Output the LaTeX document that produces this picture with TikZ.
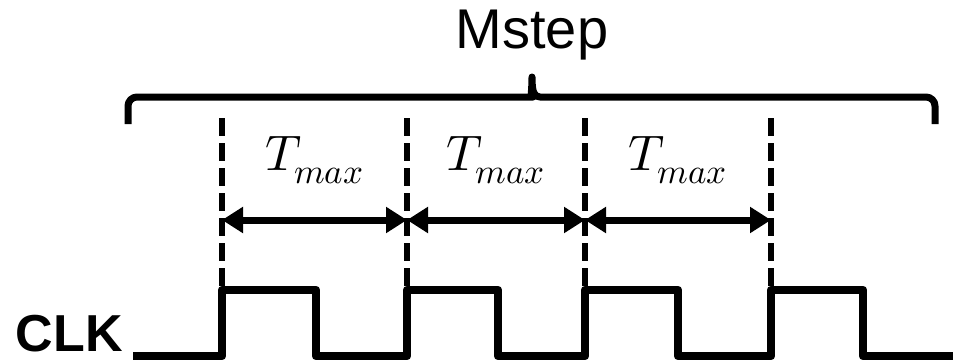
\documentclass[tikz,border=0pt]{standalone}
\usepackage{fontspec}
\usepackage{unicode-math}
\setmainfont{Liberation Sans}
\setmathfont{Latin Modern Math}
\usetikzlibrary{arrows.meta, positioning}

\begin{document}
\begin{tikzpicture}[
    x=1pt, y=-1pt,
    wave/.style={line width=8.5pt, line join=round},
    guide/.style={line width=6pt, dash pattern=on 18pt off 7pt},
    brace/.style={line width=7pt, line join=round},
    span/.style={{Triangle[length=21pt, width=25pt]}-{Triangle[length=21pt, width=25pt]}, line width=7pt},
    period/.style={above=33pt, font=\fontsize{50}{56}\selectfont},
    every node/.style={inner sep=0pt}
]
\useasboundingbox (0,0) rectangle (959,364);

% Edge positions
\foreach \name/\x in {e1/222, e2/407, e3/585, e4/771} {
    \coordinate (\name top) at (\x,118);
    \coordinate (\name) at (\x,220);
    \coordinate (\name bot) at (\x,290);
}

% Top: Mstep brace
\node[font=\fontsize{56}{62}\selectfont] (mstep) at (532,35) {Mstep};
\draw[brace] (128,124) [rounded corners=9pt] -- (128,97) -- (524,97) [sharp corners]
    .. controls (530,97) and (532,92) .. (532,77)
    .. controls (532,92) and (534,97) .. (540,97) [rounded corners=9pt]
    -- (935,97) -- (935,124);

% Dashed guides
\foreach \name in {e1, e2, e3, e4}
    \draw[guide] (\name top) -- (\name bot);

% Periods
\draw[span] (e1) -- node[period] (t1) {$T_{max}$} (e2);
\draw[span] (e2) -- node[period] (t2) {$T_{max}$} (e3);
\draw[span] (e3) -- node[period] (t3) {$T_{max}$} (e4);

% Clock
\node[anchor=south east, font=\fontsize{52}{58}\selectfont\bfseries] (clk) at (123,352) {CLK};
\draw[wave] (133,356) -- (222,356) -- (222,290) -- (316,290) -- (316,356)
    -- (407,356) -- (407,290) -- (498,290) -- (498,356)
    -- (585,356) -- (585,290) -- (678,290) -- (678,356)
    -- (771,356) -- (771,290) -- (863,290) -- (863,356) -- (953,356);

\end{tikzpicture}
\end{document}
